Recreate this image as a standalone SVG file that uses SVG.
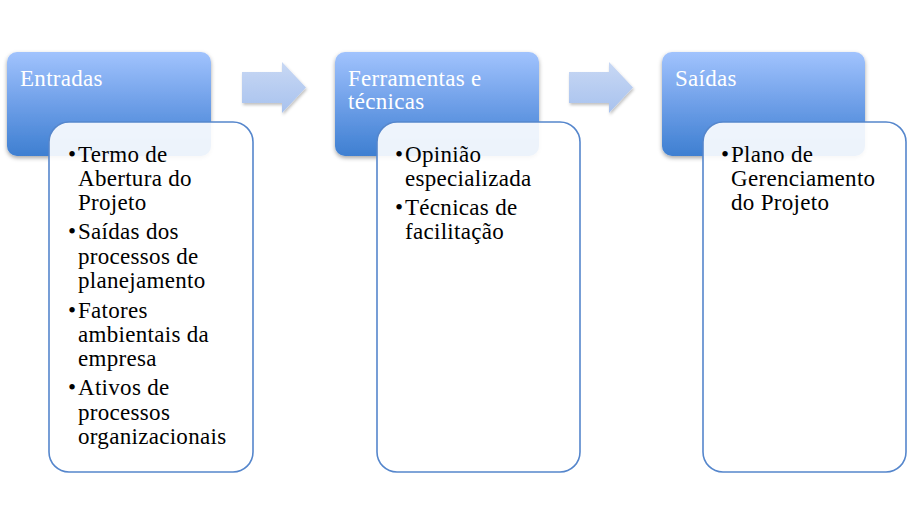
<svg xmlns="http://www.w3.org/2000/svg" width="908" height="525" viewBox="0 0 908 525">
<defs>
<linearGradient id="hdr" x1="0" y1="0" x2="0" y2="1">
<stop offset="0" stop-color="#a1c3fd"/>
<stop offset="0.5" stop-color="#6e9fe8"/>
<stop offset="1" stop-color="#3e7fd1"/>
</linearGradient>
<linearGradient id="arr" x1="0" y1="0" x2="0" y2="1">
<stop offset="0" stop-color="#c8d8f4"/>
<stop offset="1" stop-color="#a8c2ee"/>
</linearGradient>
<filter id="sh" x="-10%" y="-10%" width="125%" height="130%">
<feDropShadow dx="0" dy="2" stdDeviation="2" flood-color="#000" flood-opacity="0.35"/>
</filter>
<filter id="ash" x="-10%" y="-10%" width="130%" height="140%">
<feDropShadow dx="1" dy="2" stdDeviation="1.5" flood-color="#000" flood-opacity="0.25"/>
</filter>
</defs>
<style>
.hdr{fill:url(#hdr);filter:url(#sh)}
.body{fill:#ffffff;fill-opacity:0.9;stroke:#5586cc;stroke-width:1.6}
.ht{font-family:"Liberation Serif","Times New Roman",serif;font-size:23px;fill:#ffffff;letter-spacing:0.3px}
.bt{font-family:"Liberation Serif","Times New Roman",serif;font-size:23px;fill:#000000;letter-spacing:0.3px}
.arr{fill:url(#arr);filter:url(#ash)}
</style>
<rect width="908" height="525" fill="#ffffff"/>
<g id="connectors">
<path class="arr" d="M242,72 H282 V62 L306,87.5 L282,113 V103 H242 Z"/>
<path class="arr" d="M569,72 H609 V62 L633,87.5 L609,113 V103 H569 Z"/>
</g>
<g id="entradas">
<rect class="hdr" x="7" y="52" width="204" height="104" rx="10"/>
<text class="ht" x="20" y="86">Entradas</text>
<rect class="body" x="49" y="122" width="204" height="350" rx="20"/>
<g class="bt">
<text x="68" y="162">•</text><text x="78" y="162">Termo de</text>
<text x="78" y="186">Abertura do</text>
<text x="78" y="210">Projeto</text>
<text x="68" y="239">•</text><text x="78" y="239">Saídas dos</text>
<text x="78" y="264">processos de</text>
<text x="78" y="288">planejamento</text>
<text x="68" y="318">•</text><text x="78" y="318">Fatores</text>
<text x="78" y="342">ambientais da</text>
<text x="78" y="366">empresa</text>
<text x="68" y="395">•</text><text x="78" y="395">Ativos de</text>
<text x="78" y="420">processos</text>
<text x="78" y="444">organizacionais</text>
</g>
</g>
<g id="ferramentas">
<rect class="hdr" x="335" y="52" width="204" height="104" rx="10"/>
<text class="ht" x="348" y="86">Ferramentas e</text>
<text class="ht" x="348" y="109">técnicas</text>
<rect class="body" x="377" y="122" width="203" height="350" rx="20"/>
<g class="bt">
<text x="395" y="162">•</text><text x="405" y="162">Opinião</text>
<text x="405" y="186">especializada</text>
<text x="395" y="215">•</text><text x="405" y="215">Técnicas de</text>
<text x="405" y="239">facilitação</text>
</g>
</g>
<g id="saidas">
<rect class="hdr" x="662" y="52" width="203" height="104" rx="10"/>
<text class="ht" x="675" y="86">Saídas</text>
<rect class="body" x="703" y="122" width="203" height="350" rx="20"/>
<g class="bt">
<text x="721" y="162">•</text><text x="731" y="162">Plano de</text>
<text x="731" y="186">Gerenciamento</text>
<text x="731" y="210">do Projeto</text>
</g>
</g>
</svg>
